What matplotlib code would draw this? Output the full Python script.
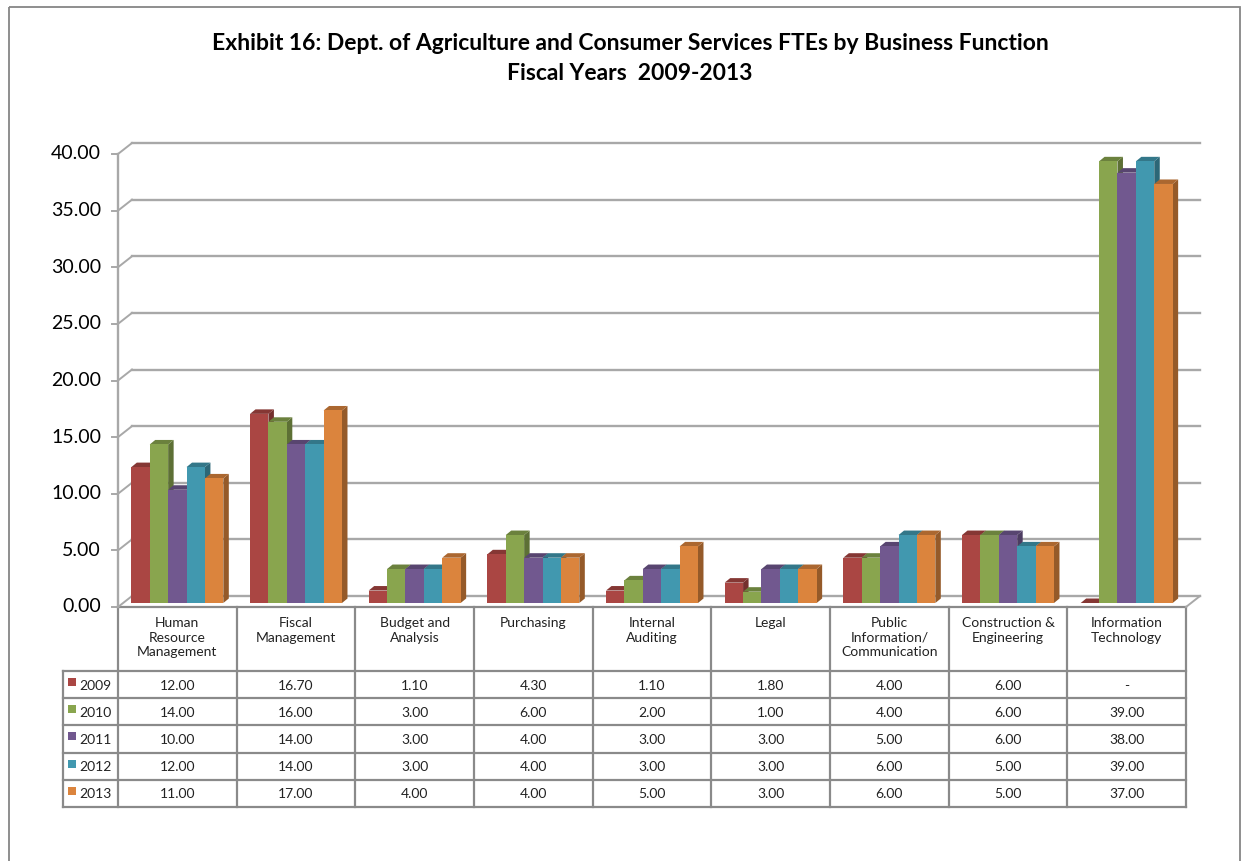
import numpy as np
import matplotlib.pyplot as plt
from matplotlib.patches import Polygon, Rectangle
from matplotlib.colors import to_rgb
from matplotlib.transforms import ScaledTranslation

plt.rcParams['font.family'] = ['Lato', 'DejaVu Sans']

# FTEs per business function, fiscal years 2009-2013
functions = ['Human\nResource\nManagement', 'Fiscal\nManagement', 'Budget and\nAnalysis',
             'Purchasing', 'Internal\nAuditing', 'Legal',
             'Public\nInformation/\nCommunication', 'Construction &\nEngineering',
             'Information\nTechnology']
years = ['2009', '2010', '2011', '2012', '2013']
fte_2009 = [12.0, 16.7, 1.1, 4.3, 1.1, 1.8, 4.0, 6.0, 0.0]
fte_2010 = [14.0, 16.0, 3.0, 6.0, 2.0, 1.0, 4.0, 6.0, 39.0]
fte_2011 = [10.0, 14.0, 3.0, 4.0, 3.0, 3.0, 5.0, 6.0, 38.0]
fte_2012 = [12.0, 14.0, 3.0, 4.0, 3.0, 3.0, 6.0, 5.0, 39.0]
fte_2013 = [11.0, 17.0, 4.0, 4.0, 5.0, 3.0, 6.0, 5.0, 37.0]
series = [fte_2009, fte_2010, fte_2011, fte_2012, fte_2013]
colors = ['#AA4643', '#89A54E', '#71588F', '#4198AF', '#DB843D']
yticks = np.arange(0, 45, 5)

title1 = 'Exhibit 16: Dept. of Agriculture and Consumer Services FTEs by Business Function'
title2 = 'Fiscal Years  2009-2013'

# page layout in pixels
W, H = 1247, 861
X0, X1 = 118, 1186          # front edge of the floor
Y0, YTOP = 607, 154         # value 0 and value 40 on the front axis
GRID = '#A8A8A8'
LINE = '#8A8A8A'


def shade(c, f):
    r, g, b = to_rgb(c)
    return (r * f, g * f, b * f)


fig = plt.figure(figsize=(W / 100, H / 100), dpi=100)

# background layer in pixel units: frame, title and data table
bg = fig.add_axes([0, 0, 1, 1])
bg.set_xlim(0, W)
bg.set_ylim(H, 0)
bg.axis('off')
bg.add_patch(Rectangle((9, 7), 1231, 870, fill=False, ec='#868686', lw=1.3, clip_on=False))
bg.text(630, 43, title1, ha='center', va='center', fontsize=16.5, fontweight='bold')
bg.text(630, 73, title2, ha='center', va='center', fontsize=16.5, fontweight='bold')

# chart layer in data units
ax = fig.add_axes([X0 / W, 1 - Y0 / H, (X1 - X0) / W, (Y0 - YTOP) / H])
ax.set_xlim(-0.5, 8.5)
ax.set_ylim(0, 40)
ax.axis('off')

cpx = (X1 - X0) / 9.0       # pixels per category
vpx = (Y0 - YTOP) / 40.0    # pixels per unit
dx, dy = 14 / cpx, 11 / vpx          # depth of the back wall
ex, ey = 5.5 / cpx, 4.5 / vpx        # depth of each column
bw = 0.155
lift = ax.transData + ScaledTranslation(0, 4 / fig.dpi, fig.dpi_scale_trans)

# back wall gridlines and the side wall diagonals
for v in yticks:
    ax.plot([-0.5 + dx, 8.5 + dx], [v + dy, v + dy], color=GRID, lw=1.7, clip_on=False, zorder=0)
    ax.plot([-0.5, -0.5 + dx], [v, v + dy], color=GRID, lw=1.4, clip_on=False, zorder=0)
    ax.plot([-0.5 - 6 / cpx, -0.5], [v, v], color=GRID, lw=1.4, clip_on=False, zorder=0)
    ax.text(-0.5 - 17 / cpx, v, f'{v:.2f}', ha='right', va='center', fontsize=14)
ax.plot([-0.5, -0.5], [0, 40], color=GRID, lw=1.7, clip_on=False, zorder=0)
ax.plot([8.5, 8.5 + dx], [0, dy], color=GRID, lw=1.4, clip_on=False, zorder=0)

# 3-D columns: side, top, then front face, left to right
for k in range(len(functions)):
    for i, vals in enumerate(series):
        v = vals[k]
        x0 = k + (i - 2.5) * bw
        c = colors[i]
        ax.add_patch(Polygon([(x0 + bw, 0), (x0 + bw + ex, ey), (x0 + bw + ex, v + ey), (x0 + bw, v)],
                             closed=True, fc=shade(c, 0.68), ec='none', transform=lift, clip_on=False))
        ax.add_patch(Polygon([(x0, v), (x0 + ex, v + ey), (x0 + bw + ex, v + ey), (x0 + bw, v)],
                             closed=True, fc=shade(c, 0.78), ec='none', transform=lift, clip_on=False))
        ax.bar(x0, v, width=bw, align='edge', color=c, lw=0, transform=lift, clip_on=False)

# data table under the chart
rows = [671 + 27.2 * r for r in range(6)]
cols = [X0 + cpx * k for k in range(10)]
LEG = 63
bg.plot([X0, X1], [Y0, Y0], color=LINE, lw=1.6)
for x in cols:
    bg.plot([x, x], [Y0, rows[-1]], color=LINE, lw=1.6)
bg.plot([LEG, LEG], [rows[0], rows[-1]], color=LINE, lw=1.6)
for y in rows:
    bg.plot([LEG, X1], [y, y], color=LINE, lw=1.6)

for k, name in enumerate(functions):
    bg.text(cols[k] + cpx / 2, 617, name, ha='center', va='top', fontsize=10,
            linespacing=1.25, color='#222222')
for r, (yr, vals) in enumerate(zip(years, series)):
    yc = (rows[r] + rows[r + 1]) / 2
    bg.add_patch(Rectangle((68, rows[r] + 7), 8, 8, fc=colors[r], ec='none'))
    bg.text(79, yc + 1, yr, ha='left', va='center', fontsize=10, color='#222222')
    for k, v in enumerate(vals):
        s = f'{v:.2f}' if v else '-'
        bg.text(cols[k] + cpx / 2, yc + 1, s, ha='center', va='center', fontsize=10, color='#222222')

fig.savefig('out.png', dpi=100)
